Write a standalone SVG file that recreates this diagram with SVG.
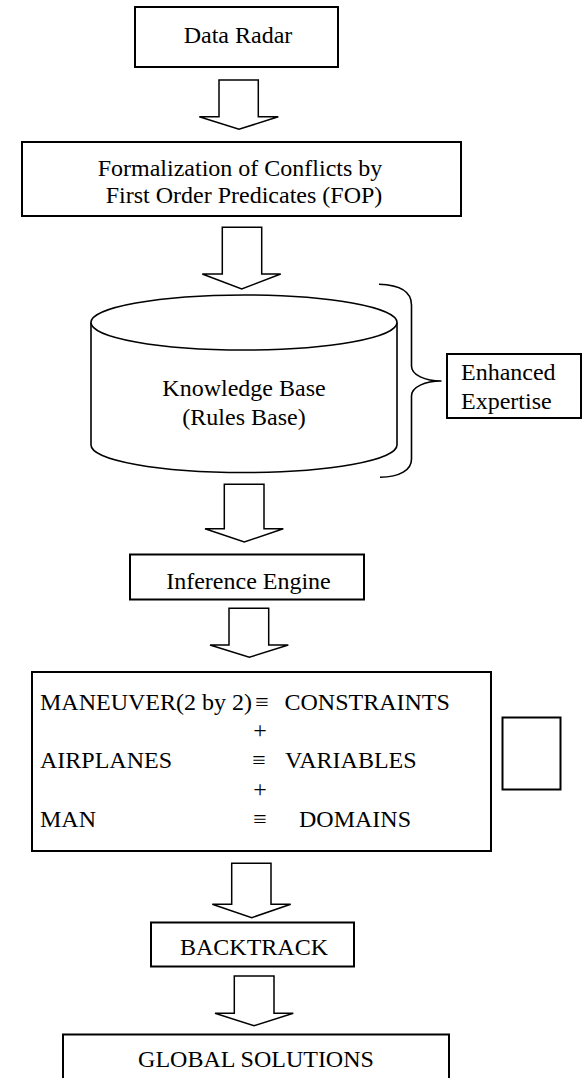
<svg xmlns="http://www.w3.org/2000/svg" width="584" height="1078" viewBox="0 0 584 1078">
<style>
.box{fill:#fff;stroke:#000;stroke-width:2}
.shape{fill:#fff;stroke:#000;stroke-width:1.6}
.arr{fill:#fff;stroke:#000;stroke-width:1.5;stroke-linejoin:miter}
.line{fill:none;stroke:#000;stroke-width:1.6}
text{font-family:"Liberation Serif","Times New Roman",serif;font-size:24px;fill:#000}
.c{text-anchor:middle}
</style>
<rect width="584" height="1078" fill="#fff"/>
<g id="connectors">
<path class="arr" d="M219 80 H258.3 V116.7 H278.3 L239 129.3 L199.3 116.7 H219 Z"/>
<path class="arr" d="M222.3 227.3 H261.7 V274 H280.7 L241.7 289 L202.3 274 H222.3 Z"/>
<path class="arr" d="M224.3 484.3 H264 V528.7 H283.3 L244.3 542 L205 528.7 H224.3 Z"/>
<path class="arr" d="M229 608.3 H268.7 V645 H288.3 L249.3 657.3 L210 645 H229 Z"/>
<path class="arr" d="M231.7 863.3 H271 V904.3 H290.7 L251.7 917.7 L212.3 904.3 H231.7 Z"/>
<path class="arr" d="M234.3 976 H274 V1013.3 H293.3 L254 1025.7 L215 1013.3 H234.3 Z"/>
<path class="line" d="M379 284.3 C400 285,411.5 292,411.5 305 L411.5 366 C411.5 375,425 381,441.5 381 C425 381,411.5 387,411.5 396 L411.5 459 C411.5 470,400 477,380 477.3"/>
</g>
<g id="data-radar">
<rect class="box" x="135" y="7" width="203" height="60"/>
<text class="c" x="238" y="43">Data Radar</text>
</g>
<g id="formalization">
<rect class="box" x="22" y="142" width="439" height="74"/>
<text class="c" x="240" y="176">Formalization of Conflicts by</text>
<text class="c" x="244" y="202.5">First Order Predicates (FOP)</text>
</g>
<g id="knowledge-base">
<path class="shape" d="M91 322.5 V445 A153 27.5 0 0 0 397 445 V322.5"/>
<ellipse class="shape" cx="244" cy="322.5" rx="153" ry="27.5"/>
<text class="c" x="244" y="396">Knowledge Base</text>
<text class="c" x="244" y="425">(Rules Base)</text>
</g>
<g id="enhanced-expertise">
<rect class="box" x="447" y="354" width="134" height="64"/>
<text x="461" y="379.5">Enhanced</text>
<text x="461" y="408.5">Expertise</text>
</g>
<g id="inference-engine">
<rect class="box" x="130" y="554.5" width="234" height="45"/>
<text class="c" x="248.5" y="588.5">Inference Engine</text>
</g>
<g id="csp">
<rect class="box" x="32" y="672" width="459" height="179"/>
<text x="252" y="709.5" text-anchor="end">MANEUVER(2 by 2)</text>
<text class="c" x="262" y="709.5">≡</text>
<text x="284.5" y="709.5">CONSTRAINTS</text>
<text class="c" x="260" y="738">+</text>
<text x="40" y="768.3">AIRPLANES</text>
<text class="c" x="259" y="768.3">≡</text>
<text x="285" y="768.3">VARIABLES</text>
<text class="c" x="260" y="797">+</text>
<text x="40" y="827">MAN</text>
<text class="c" x="260" y="827">≡</text>
<text x="299" y="827">DOMAINS</text>
</g>
<g id="empty-box">
<rect class="box" x="502.5" y="717.5" width="58" height="72"/>
</g>
<g id="backtrack">
<rect class="box" x="151" y="922.5" width="203" height="44"/>
<text class="c" x="254" y="955">BACKTRACK</text>
</g>
<g id="global-solutions">
<rect class="box" x="63" y="1034.5" width="386" height="60"/>
<text class="c" x="256" y="1066.7">GLOBAL SOLUTIONS</text>
</g>
</svg>
